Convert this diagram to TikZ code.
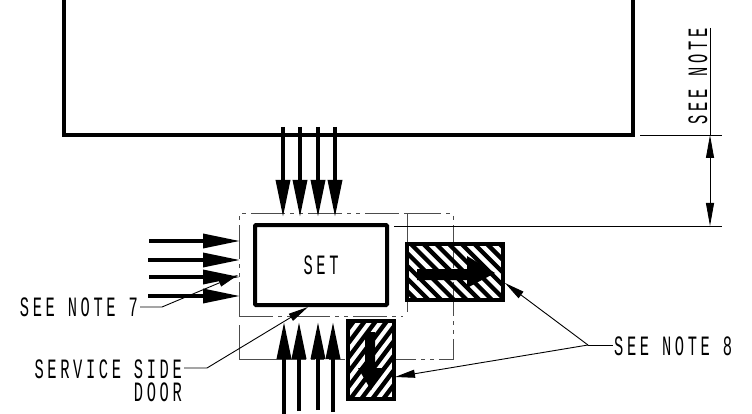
\documentclass[tikz,border=0pt]{standalone}
\usepackage{fontspec}
\usetikzlibrary{arrows.meta}
\newfontfamily\cad[FakeStretch=0.55,LetterSpace=13]{Liberation Mono}
\tikzset{
  x=1pt,y=-1pt,
  flowarrow/.style={line width=3.4pt,-{Triangle[length=37pt,width=14pt]}},
  dimarrow/.style={line width=.9pt,{Triangle[length=23pt,width=8pt]}-{Triangle[length=23pt,width=8pt]}},
  leader/.style={line width=.9pt,-{Triangle[length=20pt,width=8pt]}},
  thinline/.style={line width=.9pt},
  envelope/.style={line width=1pt,black!70},
  envdash/.style={envelope,dash pattern=on 34pt off 5pt on 4pt off 5pt on 4pt off 5pt},
  heavy/.style={line width=4pt,rounded corners=1pt},
  label/.style={font=\cad\fontsize{28}{23}\selectfont,inner sep=0pt},
}
\begin{document}
\begin{tikzpicture}
\useasboundingbox (0,0) rectangle (752,414);
% main enclosure
\coordinate (mtl) at (64,-5); \coordinate (mbl) at (64,135);
\coordinate (mbr) at (633,135); \coordinate (mtr) at (633,-5);
\begin{scope}
\clip (0,0) rectangle (752,414);
\draw[line width=3.4pt,line join=miter] (mtl) -- (mbl) -- (mbr) -- (mtr);
\end{scope}
% clearance envelope
\draw[envdash] (239,316) -- (239,214) -- (407,214);
\draw[envdash] (407,214) -- (453,214) -- (453,359) -- (394,359);
\draw[envelope] (239,325) -- (239,359) -- (272,359);
\draw[envdash] (272,359) -- (345,359);
\draw[envdash] (239,316) -- (403,316);
\draw[envelope] (407,214) -- (407,312);
% set box
\node[draw,heavy,minimum width=132pt,minimum height=80pt,inner sep=0pt] (setbox) at (321,265) {};
\node[label] (settext) at (321,265) {SET};
% top arrows
\foreach \n/\px in {a/283,b/300,c/318,d/335}{
  \coordinate (t\n s) at (\px,127); \coordinate (t\n e) at (\px,217);
  \draw[flowarrow] (t\n s) -- (t\n e);
}
% left arrows
\foreach \n/\py/\px in {a/241/149,b/260/148,c/277/149,d/296/148}{
  \coordinate (l\n s) at (\px,\py); \coordinate (l\n e) at (240,\py);
  \draw[flowarrow] (l\n s) -- (l\n e);
}
% bottom arrows
\foreach \n/\px/\py in {a/284/414,b/299/411,c/318/410,d/333/412}{
  \coordinate (b\n s) at (\px,\py); \coordinate (b\n e) at (\px,322);
  \draw[flowarrow] (b\n s) -- (b\n e);
}
% hatched right box
\begin{scope}
\clip (407,244) rectangle (503,300);
\foreach \k in {-2,...,14}{
  \draw[line width=4.3pt] (350+12.7*\k,234) -- (430+12.7*\k,314);
}
\end{scope}
\node[draw,line width=3.5pt,minimum width=96pt,minimum height=56pt,inner sep=0pt] (hr) at (455,272) {};
\fill (417,269) -- (467,269) -- (467,256) -- (495,273) -- (467,288) -- (467,280) -- (417,280) -- cycle;
% hatched lower box
\begin{scope}
\clip (348,321) rectangle (394,399);
\foreach \k in {-6,...,12}{
  \draw[line width=4.4pt] (320+11*\k,410) -- (390+11*\k,317);
}
\end{scope}
\node[draw,line width=3.5pt,minimum width=46pt,minimum height=78pt,inner sep=0pt] (hd) at (371,360) {};
\fill (365,332) -- (375,332) -- (375,368) -- (382,368) -- (371,390) -- (358,368) -- (365,368) -- cycle;
% dimension
\coordinate (dtop) at (710,135); \coordinate (dbot) at (710,226);
\coordinate (dext) at (710,28);
\coordinate (e1a) at (640,135); \coordinate (e1b) at (722,135);
\coordinate (e2a) at (394,226); \coordinate (e2b) at (722,226);
\draw[thinline] (e1a) -- (e1b);
\draw[thinline] (e2a) -- (e2b);
\draw[thinline] (dext) -- (dtop);
\draw[dimarrow] (dtop) -- (dbot);
\node[label,rotate=90] (dimtext) at (698,76.5) {SEE NOTE};
% labels and leaders
\node[label,anchor=east] (n7) at (138,307) {SEE NOTE 7};
\coordinate (n7a) at (140,307); \coordinate (n7b) at (162,307); \coordinate (n7t) at (238,275);
\draw[leader] (n7a) -- (n7b) -- (n7t);
\node[label,anchor=east,align=right] (ss) at (182,380.5) {SERVICE SIDE\\DOOR};
\coordinate (ssa) at (184,368); \coordinate (ssb) at (207,368); \coordinate (sst) at (308,307);
\draw[leader] (ssa) -- (ssb) -- (sst);
\node[label,anchor=west] (n8) at (614,346) {SEE NOTE 8};
\coordinate (j8) at (588,345); \coordinate (j8e) at (613,345);
\coordinate (t8a) at (505,283); \coordinate (t8b) at (395,377);
\draw[thinline] (j8) -- (j8e);
\draw[leader] (j8) -- (t8a);
\draw[leader] (j8) -- (t8b);
\end{tikzpicture}
\end{document}
